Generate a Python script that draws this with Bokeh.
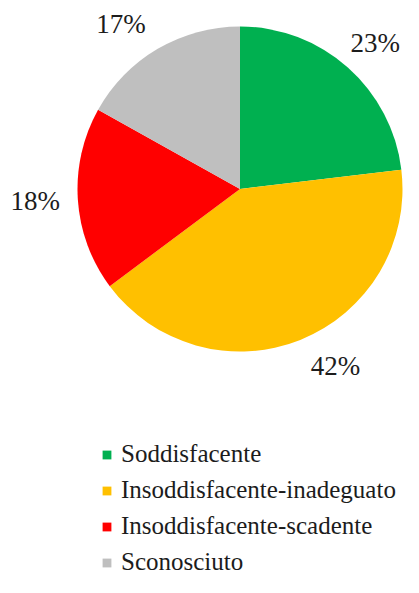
import numpy as np
from bokeh.plotting import figure
from bokeh.models import ColumnDataSource, Range1d, Legend, LegendItem
from bokeh.core.properties import value
from bokeh.embed import file_html
from bokeh.resources import INLINE

categories = ["Soddisfacente", "Insoddisfacente-inadeguato",
              "Insoddisfacente-scadente", "Sconosciuto"]
shares = [23.1, 41.7, 18.3, 16.9]
pct_labels = ["23%", "42%", "18%", "17%"]
colors = ["#00B050", "#FFC000", "#FF0000", "#BFBFBF"]

W, H = 403, 577
CX, CY, R = 239.5, H - 188.5, 162.5   # pie centre / radius in pixel-like units
LABEL_GAP = 12
LABEL_SIDE = 6
LABEL_PX = 27
FONT = "Liberation Serif"
TEXT_COLOR = "#1c1c1c"

frac = np.array(shares) / np.sum(shares)
cum_after = np.cumsum(frac)
cum_before = cum_after - frac
start = np.pi / 2 - 2 * np.pi * cum_before
end = np.pi / 2 - 2 * np.pi * cum_after
mid = (start + end) / 2

cosm, sinm = np.cos(mid), np.sin(mid)
aligns = ["left" if c > 0.3 else ("right" if c < -0.3 else "center") for c in cosm]
baselines = ["bottom" if s > 0.3 else ("top" if s < -0.3 else "middle") for s in sinm]
side = np.array([1 if a == "left" else (-1 if a == "right" else 0) for a in aligns])
lx = CX + (R + LABEL_GAP) * cosm + LABEL_SIDE * side
ly = CY + (R + LABEL_GAP) * sinm
# keep left-aligned labels inside the canvas (approx. Times width of "NN%" = 1.85 em)
est_w = 1.85 * LABEL_PX
lx = np.where(side > 0, np.minimum(lx, W - est_w - 3), lx)

src = ColumnDataSource(dict(cat=categories, start=start, end=end, color=colors,
                            lx=lx, ly=ly, label=pct_labels, align=aligns, baseline=baselines))

p = figure(width=W, height=H, output_backend="svg", toolbar_location=None,
           x_range=Range1d(0, W), y_range=Range1d(0, H), min_border=0,
           outline_line_color=None, background_fill_color="white")
p.axis.visible = False
p.grid.visible = False

wedges = p.wedge(x=CX, y=CY, radius=R, start_angle="start", end_angle="end",
                 direction="clock", fill_color="color", line_color=None, source=src)

p.text(x="lx", y="ly", text="label", text_align="align", text_baseline="baseline",
       text_font=value(FONT), text_font_size=f"{LABEL_PX}px", text_color=TEXT_COLOR,
       source=src)

legend = Legend(items=[LegendItem(label=c, renderers=[wedges], index=i)
                       for i, c in enumerate(categories)],
                location=(101, 1), orientation="vertical",
                padding=0, margin=0, spacing=8,
                glyph_width=11, glyph_height=11, label_height=28, label_standoff=9,
                label_text_font=FONT, label_text_font_size="25px",
                label_text_color=TEXT_COLOR,
                border_line_color=None, background_fill_alpha=0)
p.add_layout(legend)

open("out.html", "w").write(file_html(p, INLINE))
